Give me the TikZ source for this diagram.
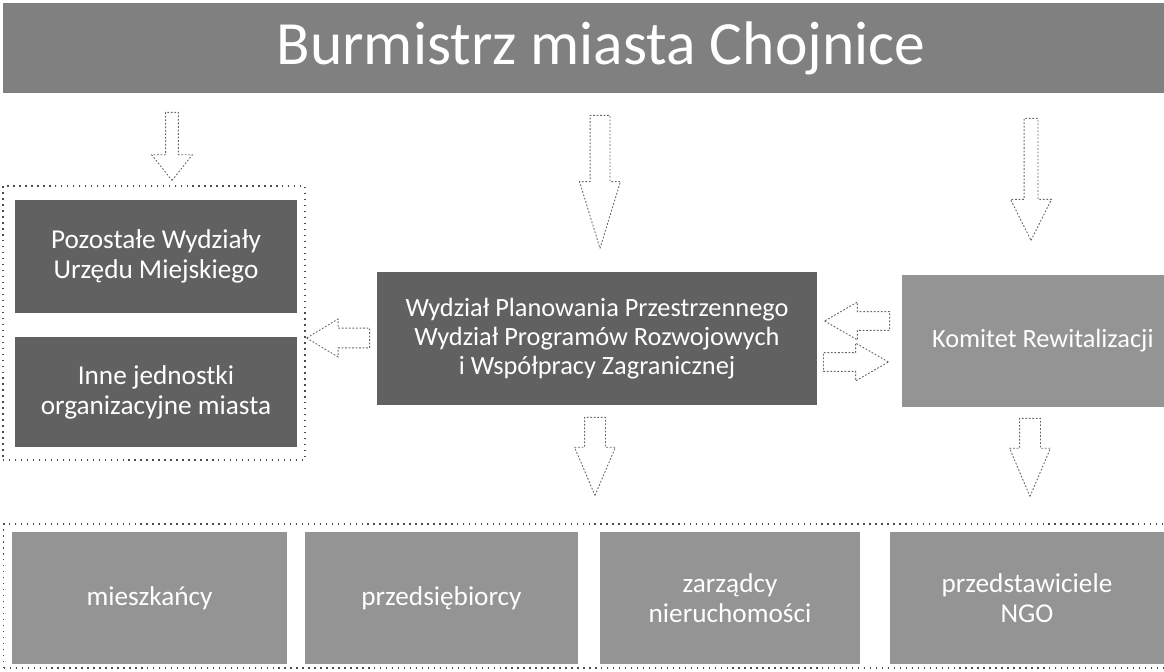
\documentclass[tikz,border=0pt]{standalone}
\usepackage{fontspec}
\setmainfont{Carlito}
\usetikzlibrary{shapes.arrows}

\begin{document}
\begin{tikzpicture}[x=0.02cm, y=-0.02cm,
  pasek/.style={fill=black!50, text=white, inner sep=0pt,
                font=\fontsize{35}{40}\selectfont},
  ciemny/.style={fill=black!62, text=white, align=center, inner sep=0pt,
                 font=\fontsize{15.5}{17}\selectfont},
  jasny/.style={ciemny, fill=black!42},
  grupa/.style={draw=black!70, line width=0.8pt, dash pattern=on 0.8pt off 2.6pt,
                inner sep=0pt},
  strz/.style={single arrow, draw=black!60, line width=0.5pt,
               dash pattern=on 1pt off 1pt, fill=white, inner sep=#1,
               single arrow head indent=0pt, anchor=tail},
  strz/.default=0.1cm
]
\useasboundingbox (0,0) rectangle (1164,672);
% ---- top: mayor ----
\node[pasek, minimum width=23.94cm, minimum height=1.8cm] (burm) at (601,48)
  {Burmistrz miasta Chojnice};
% ---- left: other units ----
\node[grupa, minimum width=6.04cm, minimum height=5.48cm] (lewa) at (154,323) {};
\node[ciemny, minimum width=5.64cm, minimum height=2.26cm] (pozost) at (156,256.5)
  {Pozostałe Wydziały\\Urzędu Miejskiego};
\node[ciemny, minimum width=5.64cm, minimum height=2.2cm] (inne) at (156,392)
  {Inne jednostki\\organizacyjne miasta};
% ---- middle and right ----
\node[ciemny, minimum width=8.8cm, minimum height=2.66cm,
      font=\fontsize{15}{16.5}\selectfont] (wydz) at (597,338.5)
  {Wydział Planowania Przestrzennego\\Wydział Programów Rozwojowych\\i Współpracy Zagranicznej};
\node[jasny, minimum height=2.64cm, text width=4.92cm, inner xsep=0.6cm,
      align=flush left, font=\fontsize{15}{16.5}\selectfont] (komitet) at (1055,341)
  {Komitet Rewitalizacji};
% ---- bottom: stakeholders ----
\node[grupa, anchor=west, minimum width=24.14cm, minimum height=2.88cm] (dol) at (3,596) {};
\foreach \nm/\x/\w/\tx in {miesz/149.5/5.5/{mieszkańcy},
                           przeds/441.5/5.46/{przedsiębiorcy},
                           zarz/730/5.2/{zarządcy\\nieruchomości},
                           ngo/1027/5.48/{przedstawiciele\\NGO}}{
  \node[jasny, minimum width=\w cm, minimum height=2.64cm] (\nm) at (\x,598) {\tx};
}
% ---- block arrows (placed by their tails) ----
\node[strz=0.12cm, shape border rotate=270, minimum height=1.36cm,
      single arrow head extend=0.28cm, single arrow tip angle=77] (s1) at (172,112) {};
\node[strz=0.19cm, shape border rotate=270, minimum height=2.66cm,
      single arrow head extend=0.21cm, single arrow tip angle=34] (s2) at (600,115) {};
\node[strz=0.13cm, shape border rotate=270, minimum height=2.44cm,
      single arrow head extend=0.27cm, single arrow tip angle=53] (s3) at (1031,118) {};
\node[strz=0.19cm, shape border rotate=180, minimum height=1.26cm,
      single arrow head extend=0.18cm, single arrow tip angle=62] (s4) at (370,338) {};
\node[strz=0.18cm, shape border rotate=180, minimum height=1.3cm,
      single arrow head extend=0.19cm, single arrow tip angle=60] (s5) at (890,321) {};
\node[strz=0.18cm, minimum height=1.3cm,
      single arrow head extend=0.19cm, single arrow tip angle=60] (s6) at (823,362) {};
\node[strz=0.2cm, shape border rotate=270, minimum height=1.56cm,
      single arrow head extend=0.2cm, single arrow tip angle=46] (s7) at (595,417) {};
\node[strz=0.2cm, shape border rotate=270, minimum height=1.56cm,
      single arrow head extend=0.2cm, single arrow tip angle=46] (s8) at (1030,418) {};
\end{tikzpicture}
\end{document}
